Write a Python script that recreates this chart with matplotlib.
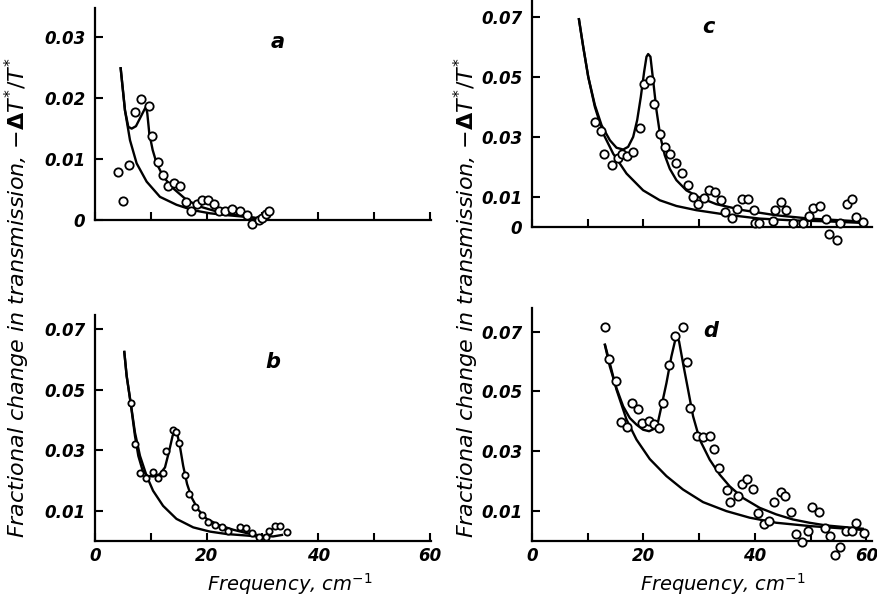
"""
Fractional change in transmission vs frequency, four panels (a-d).
Open circles = measured points, solid lines = fitted curves.
"""

import matplotlib
matplotlib.use("Agg")
import matplotlib.pyplot as plt


# ── panel a ──────────────────────────────────────────────────────────────────
A_PTS_X = [4.2, 5.1, 6.1, 7.2, 8.2, 9.6, 10.3, 11.3, 12.2, 13.1, 14.2, 15.2,
           16.3, 17.2, 18.2, 19.1, 20.2, 21.3, 22.3, 23.3, 24.5, 26.0, 27.3,
           28.2, 29.3, 30.0, 30.6, 31.2]
A_PTS_Y = [0.0079, 0.0032, 0.0090, 0.0178, 0.0198, 0.0187, 0.0138, 0.0096,
           0.0074, 0.0055, 0.0061, 0.0056, 0.0030, 0.0014, 0.0026, 0.0033,
           0.0033, 0.0026, 0.0015, 0.0015, 0.0018, 0.0015, 0.0008, -0.0007,
           0.0000, 0.0003, 0.0010, 0.0015]
A_BG_X = [4.6, 5.37, 6.27, 7.46, 9.25, 11.64, 14.6, 17.6, 20.6, 23.6, 27.2, 29.0]
A_BG_Y = [0.0249, 0.0180, 0.0131, 0.0093, 0.0063, 0.0038, 0.0025, 0.0016,
          0.0011, 0.0008, 0.0005, 0.0003]
A_FIT_X = [4.6, 5.37, 5.97, 6.57, 7.34, 8.06, 8.78, 9.13, 9.37, 9.73, 10.33,
           11.04, 12.24, 14.0, 16.4, 18.8, 21.8, 25.4, 29.0]
A_FIT_Y = [0.0249, 0.0180, 0.0153, 0.0150, 0.0154, 0.0167, 0.0180, 0.0186,
           0.0175, 0.0142, 0.0115, 0.0093, 0.0071, 0.0052, 0.0033, 0.0022,
           0.0014, 0.0008, 0.0003]

# ── panel b ──────────────────────────────────────────────────────────────────
B_PTS_X = [6.4, 7.2, 8.06, 9.1, 10.4, 11.3, 12.2, 12.8, 13.9, 14.6, 15.1, 16.1,
           16.9, 17.9, 19.1, 20.3, 21.5, 22.7, 23.9, 26.0, 27.0, 28.2, 29.3,
           30.6, 31.2, 32.2, 33.1, 34.4]
B_PTS_Y = [0.0455, 0.0320, 0.0226, 0.0207, 0.0229, 0.0207, 0.0224, 0.0298,
           0.0367, 0.0360, 0.0325, 0.0219, 0.0155, 0.0111, 0.0086, 0.0064,
           0.0053, 0.0045, 0.0034, 0.0047, 0.0044, 0.0025, 0.0012, 0.0013,
           0.0033, 0.0048, 0.0049, 0.0029]
B_BG_X = [5.25, 5.67, 6.4, 7.16, 8.06, 9.25, 10.4, 12.2, 14.6, 17.6, 20.6,
          23.6, 27.2, 29.6, 30.7]
B_BG_Y = [0.0624, 0.0545, 0.0455, 0.0358, 0.0281, 0.0215, 0.0166, 0.0116,
          0.0073, 0.0045, 0.0031, 0.0023, 0.0018, 0.0014, 0.0013]
B_FIT_X = [5.25, 5.67, 6.39, 7.16, 7.76, 8.54, 9.37, 10.45, 11.64, 12.54, 13.3,
           13.9, 14.3, 14.7, 15.2, 15.8, 16.5, 17.3, 18.5, 20.0, 22.4, 24.8,
           27.2, 29.6, 31.9, 33.5]
B_FIT_Y = [0.0624, 0.0545, 0.0455, 0.0347, 0.0281, 0.0232, 0.0215, 0.0213,
           0.0221, 0.0243, 0.0298, 0.0347, 0.0366, 0.0356, 0.0314, 0.0248,
           0.0188, 0.0144, 0.0103, 0.0073, 0.0051, 0.0037, 0.0026, 0.0018,
           0.0015, 0.0020]

# ── panel c ──────────────────────────────────────────────────────────────────
C_PTS_X = [11.3, 12.4, 13.0, 14.3, 15.5, 16.2, 17.0, 18.1, 19.3, 20.1, 21.1,
           21.9, 23.0, 23.9, 24.8, 25.9, 26.9, 27.9, 28.8, 29.8, 30.8, 31.8,
           32.9, 33.9, 34.7, 35.8, 36.8, 37.7, 38.7, 39.8, 40.0, 40.8, 43.2,
           43.6, 44.7, 45.6, 46.8, 48.6, 49.7, 50.4, 51.6, 52.7, 53.3, 54.7,
           55.3, 56.5, 57.4, 58.1, 59.3]
C_PTS_Y = [0.0350, 0.0319, 0.0244, 0.0208, 0.0231, 0.0242, 0.0236, 0.0250,
           0.0330, 0.0476, 0.0491, 0.0409, 0.0311, 0.0267, 0.0242, 0.0213,
           0.0180, 0.0139, 0.0100, 0.0078, 0.0098, 0.0124, 0.0117, 0.0089,
           0.0050, 0.0031, 0.0061, 0.0092, 0.0094, 0.0056, 0.0013, 0.0013,
           0.0020, 0.0058, 0.0083, 0.0056, 0.0013, 0.0013, 0.0036, 0.0064,
           0.0070, 0.0026, -0.0022, -0.0042, 0.0013, 0.0076, 0.0094, 0.0033,
           0.0017]
C_BG_X = [8.42, 9.19, 10.09, 11.28, 12.78, 14.57, 16.96, 19.94, 22.93, 25.91,
          29.49, 34.87, 40.84, 46.81, 52.78, 58.75]
C_BG_Y = [0.0692, 0.0600, 0.0500, 0.0400, 0.0311, 0.0244, 0.0178, 0.0122,
          0.0089, 0.0070, 0.0056, 0.0041, 0.0028, 0.0022, 0.0019, 0.0014]
C_FIT_X = [8.42, 9.19, 10.09, 11.28, 12.48, 13.97, 15.16, 16.36, 17.25, 18.15,
           18.87, 19.52, 20.12, 20.54, 20.84, 21.25, 21.73, 22.33, 23.04,
           23.82, 24.72, 25.91, 27.7, 30.09, 33.07, 37.85, 43.82, 49.79,
           55.76, 59.34]
C_FIT_Y = [0.0692, 0.0600, 0.0500, 0.0406, 0.0339, 0.0289, 0.0264, 0.0258,
           0.0267, 0.0300, 0.0356, 0.0433, 0.0517, 0.0567, 0.0576, 0.0567,
           0.0489, 0.0389, 0.0300, 0.0239, 0.0194, 0.0156, 0.0122, 0.0098,
           0.0076, 0.0056, 0.0039, 0.0028, 0.0022, 0.0018]

# ── panel d ──────────────────────────────────────────────────────────────────
D_PTS_X = [13.1, 13.9, 15.0, 15.9, 17.1, 17.9, 19.0, 19.8, 21.0, 21.9, 22.8,
           23.5, 24.6, 25.7, 27.1, 27.8, 28.3, 29.6, 30.7, 31.9, 32.6, 33.6,
           35.0, 35.5, 37.0, 37.7, 38.6, 39.6, 40.5, 41.6, 42.6, 43.4, 44.6,
           45.4, 46.4, 47.3, 48.5, 49.5, 50.3, 51.5, 52.6, 53.4, 54.4, 55.2,
           56.4, 57.4, 58.1, 59.5]
D_PTS_Y = [0.0717, 0.0608, 0.0536, 0.0398, 0.0380, 0.0461, 0.0441, 0.0394,
           0.0402, 0.0392, 0.0378, 0.0461, 0.0589, 0.0687, 0.0714, 0.0600,
           0.0444, 0.0350, 0.0348, 0.0350, 0.0306, 0.0244, 0.0172, 0.0130,
           0.0152, 0.0189, 0.0206, 0.0174, 0.0094, 0.0056, 0.0067, 0.0130,
           0.0163, 0.0152, 0.0097, 0.0022, -0.0003, 0.0033, 0.0114, 0.0098,
           0.0044, 0.0017, -0.0048, -0.0019, 0.0033, 0.0033, 0.0061, 0.0028]
D_BG_X = [13.1, 13.97, 15.16, 16.96, 18.75, 21.13, 24.12, 27.1, 30.69, 34.87,
          39.04, 43.82, 49.79, 55.76, 59.34]
D_BG_Y = [0.0656, 0.0594, 0.0506, 0.0406, 0.0339, 0.0274, 0.0217, 0.0172,
          0.0130, 0.0100, 0.0078, 0.0061, 0.0050, 0.0042, 0.0037]
D_FIT_X = [13.07, 13.97, 15.04, 16.36, 17.55, 18.75, 19.94, 21.01, 22.03,
           22.63, 23.22, 24.12, 25.01, 25.91, 26.39, 27.1, 28.0, 28.9, 30.09,
           31.88, 33.67, 35.46, 37.85, 40.84, 43.82, 46.81, 49.79, 52.78,
           55.76, 59.34]
D_FIT_Y = [0.0656, 0.0583, 0.0517, 0.0450, 0.0411, 0.0389, 0.0372, 0.0367,
           0.0376, 0.0400, 0.0450, 0.0528, 0.0617, 0.0689, 0.0667, 0.0594,
           0.0506, 0.0417, 0.0339, 0.0272, 0.0222, 0.0183, 0.0144, 0.0111,
           0.0089, 0.0072, 0.0061, 0.0052, 0.0047, 0.0041]

X_TICKS = [0, 10, 20, 30, 40, 50, 60]
X_TICK_LABELS = ["0", "", "20", "", "40", "", "60"]

Y_LABEL = r"Fractional change in transmission, $-\mathbf{\Delta} T^{*}/T^{*}$"
X_LABEL = r"Frequency, cm$^{-1}$"

W, H = 877, 600
TICK_FONT = dict(fontsize=12, fontweight="bold", fontstyle="italic")


def make_axes(fig, left, bottom, right, top):
    """Axes from pixel coordinates of the reference image."""
    ax = fig.add_axes([left / W, 1 - bottom / H, (right - left) / W, (bottom - top) / H])
    for s in ("top", "right"):
        ax.spines[s].set_visible(False)
    for s in ("left", "bottom"):
        ax.spines[s].set_linewidth(1.6)
    ax.tick_params(direction="in", length=6, width=1.5, pad=7)
    ax.tick_params(axis="x", pad=4)
    return ax


def draw_panel(ax, pts_x, pts_y, bg_x, bg_y, fit_x, fit_y, ms):
    ax.plot(bg_x, bg_y, color="black", lw=1.7, clip_on=False)
    ax.plot(fit_x, fit_y, color="black", lw=1.7, clip_on=False)
    ax.plot(pts_x, pts_y, "o", mfc="white", mec="black", mew=1.3, ms=ms,
            clip_on=False, zorder=3)


def style_ticks(ax, yticks, ylabels, xlabels):
    ax.set_yticks(yticks)
    ax.set_yticklabels(ylabels, **TICK_FONT)
    ax.set_xticks(X_TICKS)
    if xlabels:
        ax.set_xticklabels(X_TICK_LABELS, **TICK_FONT)
    else:
        ax.set_xticklabels([])


fig = plt.figure(figsize=(W / 100, H / 100), dpi=100)

# a ─ top left
ax_a = make_axes(fig, 95, 220, 431, 8)
draw_panel(ax_a, A_PTS_X, A_PTS_Y, A_BG_X, A_BG_Y, A_FIT_X, A_FIT_Y, 6)
ax_a.set_xlim(0, 60.2)
ax_a.set_ylim(0, 0.0348)
style_ticks(ax_a, [0, 0.01, 0.02, 0.03], ["0", "0.01", "0.02", "0.03"], False)
ax_a.text(0.545, 0.84, "a", transform=ax_a.transAxes, fontsize=15,
          fontstyle="italic", fontweight="bold", ha="center", va="center")

# b ─ bottom left
ax_b = make_axes(fig, 95, 541, 431, 315)
draw_panel(ax_b, B_PTS_X, B_PTS_Y, B_BG_X, B_BG_Y, B_FIT_X, B_FIT_Y, 4.5)
ax_b.set_xlim(0, 60.2)
ax_b.set_ylim(0, 0.0746)
style_ticks(ax_b, [0.01, 0.03, 0.05, 0.07], ["0.01", "0.03", "0.05", "0.07"], True)
ax_b.text(0.53, 0.79, "b", transform=ax_b.transAxes, fontsize=15,
          fontstyle="italic", fontweight="bold", ha="center", va="center")
ax_b.text(0.58, -0.19, X_LABEL, transform=ax_b.transAxes, fontsize=14,
          fontstyle="italic", ha="center", va="center")

# c ─ top right
ax_c = make_axes(fig, 532, 227, 872, 0)
draw_panel(ax_c, C_PTS_X, C_PTS_Y, C_BG_X, C_BG_Y, C_FIT_X, C_FIT_Y, 6)
ax_c.set_xlim(0, 61)
ax_c.set_ylim(0, 0.0756)
style_ticks(ax_c, [0, 0.01, 0.03, 0.05, 0.07],
            ["0", "0.01", "0.03", "0.05", "0.07"], False)
ax_c.text(0.52, 0.88, "c", transform=ax_c.transAxes, fontsize=15,
          fontstyle="italic", fontweight="bold", ha="center", va="center")

# d ─ bottom right
ax_d = make_axes(fig, 532, 541, 872, 308)
draw_panel(ax_d, D_PTS_X, D_PTS_Y, D_BG_X, D_BG_Y, D_FIT_X, D_FIT_Y, 6)
ax_d.set_xlim(0, 61)
ax_d.set_ylim(0, 0.0779)
style_ticks(ax_d, [0.01, 0.03, 0.05, 0.07], ["0.01", "0.03", "0.05", "0.07"], True)
ax_d.text(0.525, 0.9, "d", transform=ax_d.transAxes, fontsize=15,
          fontstyle="italic", fontweight="bold", ha="center", va="center")
ax_d.text(0.56, -0.183, X_LABEL, transform=ax_d.transAxes, fontsize=14,
          fontstyle="italic", ha="center", va="center")

# shared y-label, repeated on the left of each column
for x_px in (17, 466):
    fig.text(x_px / W, 0.505, Y_LABEL, rotation=90, fontsize=16,
             fontstyle="italic", ha="center", va="center")

fig.savefig("out.png", dpi=100)
plt.close(fig)
